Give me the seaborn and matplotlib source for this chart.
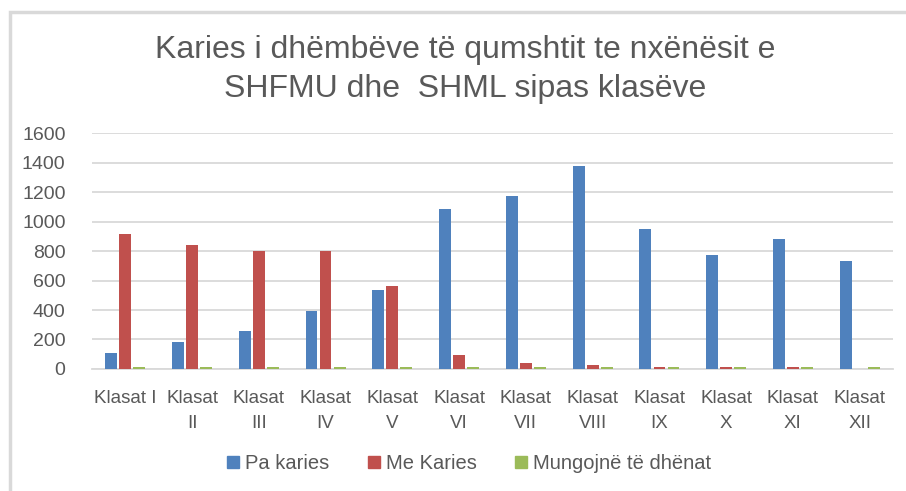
import matplotlib
matplotlib.use("Agg")
import matplotlib.pyplot as plt
import matplotlib.patches as mpatches
from matplotlib.lines import Line2D
import seaborn as sns
import pandas as pd

sns.set_theme(style="white")
plt.rcParams['font.family'] = ['Liberation Sans', 'DejaVu Sans']

# Data
classes = ["Klasat I", "Klasat\nII", "Klasat\nIII", "Klasat\nIV", "Klasat\nV", "Klasat\nVI",
           "Klasat\nVII", "Klasat\nVIII", "Klasat\nIX", "Klasat\nX", "Klasat\nXI", "Klasat\nXII"]
pa_karies = [108, 183, 258, 395, 536, 1085, 1173, 1376, 951, 775, 879, 732]
me_karies = [915, 841, 797, 797, 565, 97, 38, 29, 12, 12, 12, 0]
mungojne = [12, 12, 12, 12, 12, 12, 12, 12, 12, 12, 12, 12]
series_names = ["Pa karies", "Me Karies", "Mungojnë të dhënat"]
colors = ["#4F81BD", "#C0504D", "#9BBB59"]
yticks = [0, 200, 400, 600, 800, 1000, 1200, 1400, 1600]

df = pd.DataFrame({
    "klasa": classes * 3,
    "vlera": pa_karies + me_karies + mungojne,
    "seria": [s for s in series_names for _ in classes],
})

fig = plt.figure(figsize=(9.06, 4.91), dpi=100)
ax = fig.add_axes([0.1015, 0.2485, 0.8842, 0.4805])

sns.barplot(data=df, x="klasa", y="vlera", hue="seria", hue_order=series_names,
            palette=colors, width=0.63, gap=0.16, saturation=1,
            linewidth=0, ax=ax, legend=False, errorbar=None, zorder=3)

text_color = "#595959"
grid_color = "#d9d9d9"
ax.set_ylim(0, 1600)
ax.set_xlim(-0.5, len(classes) - 0.5)
ax.set_yticks(yticks)
ax.set_yticklabels([str(v) for v in yticks], fontsize=14, color=text_color)
ax.tick_params(axis="y", length=0, pad=19)
ax.tick_params(axis="x", length=0, pad=15, labelsize=13.5, labelcolor=text_color)
for lbl in ax.get_xticklabels():
    lbl.set_linespacing(1.6)
ax.set_xlabel("")
ax.set_ylabel("")
ax.yaxis.grid(True, color=grid_color, linewidth=1.3, zorder=0)
ax.set_axisbelow(True)
for side in ["top", "right", "left"]:
    ax.spines[side].set_visible(False)
ax.spines["bottom"].set_color(grid_color)
ax.spines["bottom"].set_linewidth(1.3)
ax.spines["bottom"].set_zorder(1)
for bar in ax.patches:
    bar.set_zorder(3)

fig.text(0.513, 0.859, "Karies i dhëmbëve të qumshtit te nxënësit e\nSHFMU dhe  SHML sipas klasëve",
         ha="center", va="center", fontsize=23, color=text_color, linespacing=1.4)

handles = [Line2D([], [], marker="s", linestyle="none", markersize=8,
                  markerfacecolor=c, markeredgecolor=c) for c in colors]
fig.legend(handles, series_names, loc="center", bbox_to_anchor=(0.518, 0.055), ncol=3,
           frameon=False, fontsize=14.5, labelcolor=text_color, handlelength=0.6,
           handletextpad=0.3, columnspacing=1.9)

# chart frame
frame = mpatches.Rectangle((10 / 906, -0.1), 1.2, 1 - 12 / 491 + 0.1, transform=fig.transFigure,
                           fill=False, edgecolor="#d9d9d9", linewidth=2.5)
fig.add_artist(frame)

fig.savefig("out.png", dpi=100)
